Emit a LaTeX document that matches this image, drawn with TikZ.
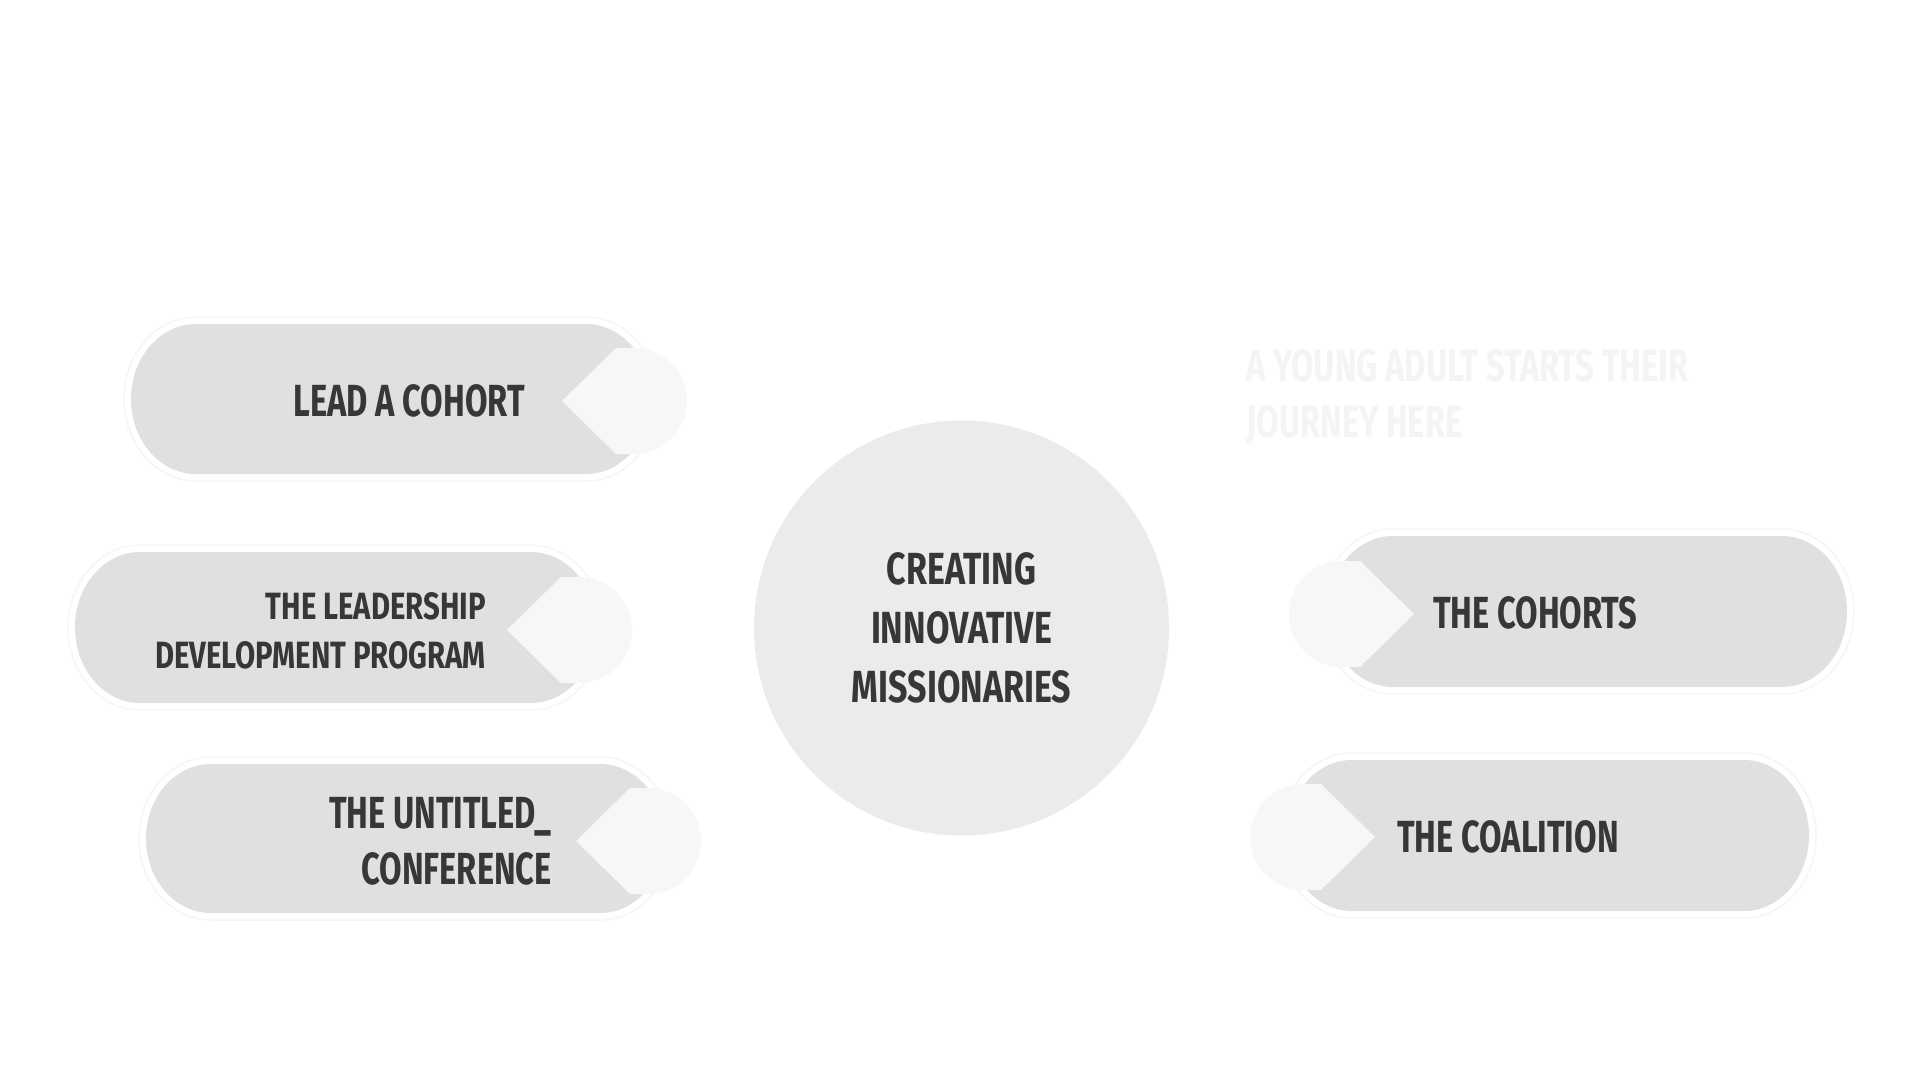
\documentclass[tikz,border=0pt]{standalone}
\usepackage{fontspec}
\newfontfamily\condfont[FakeStretch=0.725]{Fira Sans}
\newfontfamily\condmid[FakeStretch=0.755]{Fira Sans}
\newfontfamily\condwide[FakeStretch=0.77]{Fira Sans}
\definecolor{pillgray}{HTML}{E0E0E0}
\definecolor{tagwhite}{HTML}{F7F7F7}
\definecolor{circgray}{HTML}{EBEBEB}
\definecolor{ringgray}{HTML}{F6F6F6}
\definecolor{txtdark}{HTML}{383735}
\definecolor{faintgray}{HTML}{F4F4F4}
\tikzset{
  pillfill/.style={fill=pillgray},
  ringline/.style={draw=ringgray, line width=1.5pt},
  tagfill/.style={fill=tagwhite},
  lbl/.style={inner sep=0pt, text=txtdark, font=\condfont\bfseries\fontsize{45}{56}\selectfont},
  smalllbl/.style={inner sep=0pt, text=txtdark, font=\condwide\bfseries\fontsize{38}{49}\selectfont},
}
% #1 style, #2 x0, #3 y0, #4 x1, #5 y1, #6 rx, #7 ry
\newcommand{\pillshape}[7]{\path[#1] (#2+#6,#3) -- (#4-#6,#3) arc[start angle=90,end angle=-90,x radius=#6pt,y radius=#7pt] -- (#2+#6,#5) arc[start angle=270,end angle=90,x radius=#6pt,y radius=#7pt] -- cycle;}
% tag pointing left, round side on the right: #1 style, #2 cx, #3 cy
\newcommand{\tagleft}[3]{\path[#1] (#2-72,#3) -- (#2-18,#3-53) -- (#2,#3-53) arc[start angle=90,end angle=-90,radius=53pt] -- (#2-18,#3+53) -- cycle;}
% tag pointing right, round side on the left
\newcommand{\tagright}[3]{\path[#1] (#2+72,#3) -- (#2+18,#3-53) -- (#2,#3-53) arc[start angle=90,end angle=270,radius=53pt] -- (#2+18,#3+53) -- cycle;}
\begin{document}
\begin{tikzpicture}[x=1pt,y=-1pt]
\useasboundingbox[fill=white] (0,0) rectangle (1920,1080);

% faint heading
\node[inner sep=0pt, anchor=north west, align=left, text=faintgray,
      font=\condfont\bfseries\fontsize{45}{56}\selectfont] (intro) at (1246,349)
      {A YOUNG ADULT STARTS THEIR\\JOURNEY HERE};

% central circle
\node[circle, fill=circgray, minimum size=415pt, inner sep=0pt, align=center,
      text=txtdark, font=\condmid\bfseries\fontsize{45}{59}\selectfont] (core) at (961.5,628)
      {CREATING\\INNOVATIVE\\MISSIONARIES};

% pill 1
\pillshape{ringline}{124}{317}{658}{481}{72}{82}
\pillshape{pillfill}{131}{324}{651}{474}{65}{75}
\tagleft{tagfill}{634}{401}
\node[lbl, anchor=north east] (lead) at (525,384) {LEAD A COHORT};

% pill 2
\pillshape{ringline}{68}{545}{603}{710}{72}{82.5}
\pillshape{pillfill}{75}{552}{596}{703}{65}{75.5}
\tagleft{tagfill}{579}{630}
\node[smalllbl, anchor=north east, align=right] (ldp) at (486,592) {THE LEADERSHIP\\DEVELOPMENT PROGRAM};

% pill 3
\pillshape{ringline}{139}{757}{672}{920}{72}{81.5}
\pillshape{pillfill}{146}{764}{665}{913}{65}{74.5}
\tagleft{tagfill}{648}{841}
\node[lbl, anchor=north east, align=right] (conf) at (552,797) {THE UNTITLED\_\\CONFERENCE};

% pill 4
\pillshape{ringline}{1321}{529}{1854}{694}{72}{82.5}
\pillshape{pillfill}{1328}{536}{1847}{687}{65}{75.5}
\tagright{tagfill}{1342}{614}
\node[lbl, anchor=north west] (cohorts) at (1433,596) {THE COHORTS};

% pill 5
\pillshape{ringline}{1280}{753}{1816}{918}{72}{82.5}
\pillshape{pillfill}{1287}{760}{1809}{911}{65}{75.5}
\tagright{tagfill}{1303}{837}
\node[lbl, anchor=north west] (coal) at (1397,820) {THE COALITION};
\end{tikzpicture}
\end{document}
